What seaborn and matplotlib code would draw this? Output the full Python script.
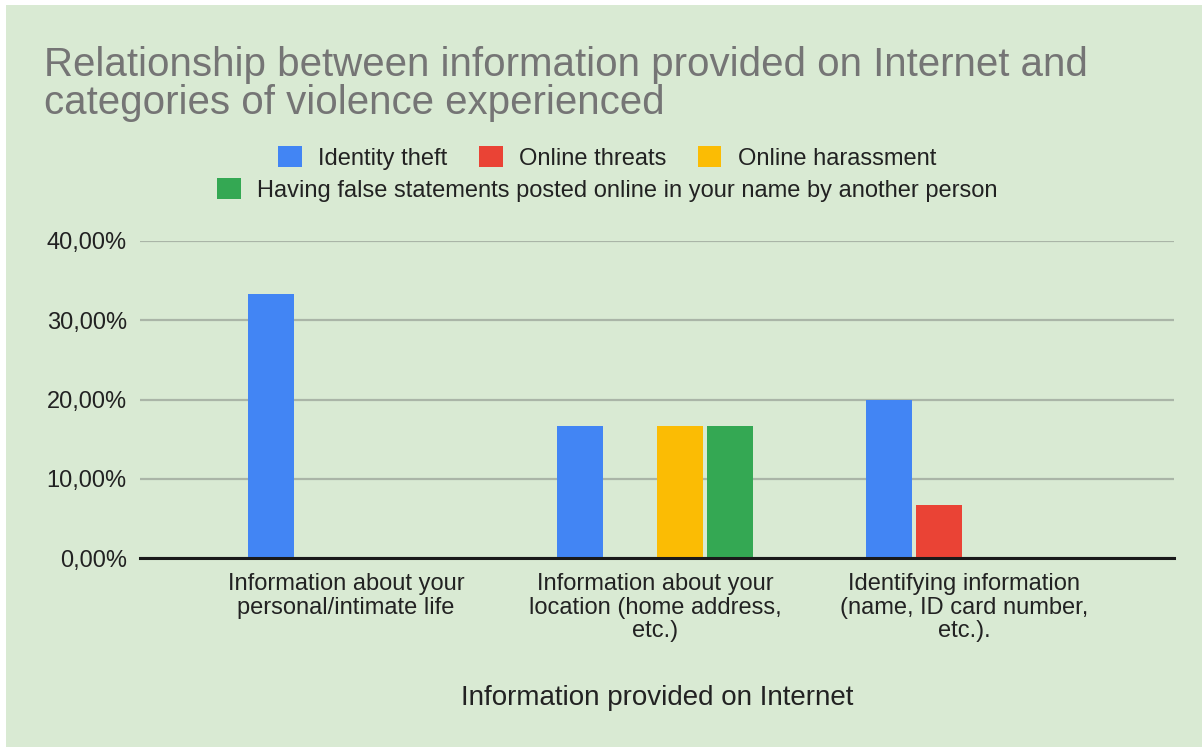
import matplotlib
matplotlib.use("Agg")
import matplotlib.pyplot as plt
from matplotlib.patches import Rectangle, Patch
from matplotlib.ticker import FuncFormatter, MultipleLocator
import pandas as pd
import seaborn as sns

# Data (percent of respondents)
categories = [
    "Information about your\npersonal/intimate life",
    "Information about your\nlocation (home address,\netc.)",
    "Identifying information\n(name, ID card number,\netc.).",
]
series = [
    "Identity theft",
    "Online threats",
    "Online harassment",
    "Having false statements posted online in your name by another person",
]
identity_theft = [33.33, 16.67, 20.00]
online_threats = [0.0, 0.0, 6.67]
online_harassment = [0.0, 16.67, 0.0]
false_statements = [0.0, 16.67, 0.0]

colors = ["#4285f4", "#ea4335", "#fbbc04", "#34a853"]
bg = "#d9ead3"

rows = []
for name, vals in zip(series, [identity_theft, online_threats, online_harassment, false_statements]):
    for cat, v in zip(categories, vals):
        rows.append({"category": cat, "series": name, "value": v})
df = pd.DataFrame(rows)

sns.set_theme(style="white")
plt.rcParams["font.family"] = ["Liberation Sans", "DejaVu Sans"]

W, H = 1202, 747
fig = plt.figure(figsize=(W / 100, H / 100), dpi=100, facecolor="white")
fig.patches.append(Rectangle((6 / W, 0), 1 - 6 / W, 1 - 5 / H, transform=fig.transFigure,
                             facecolor=bg, edgecolor="none", zorder=-10))

ax_left, ax_right, ax_top, ax_bottom = 140, 1174, 241, 558
ax = fig.add_axes([ax_left / W, 1 - ax_bottom / H, (ax_right - ax_left) / W, (ax_bottom - ax_top) / H])
ax.set_facecolor(bg)

sns.barplot(data=df, x="category", y="value", hue="series", hue_order=series,
            order=categories, palette=colors, width=0.647, gap=0.08,
            saturation=1, legend=False, ax=ax, zorder=3, linewidth=0, edgecolor="none")

ax.set_ylim(0, 40)
ax.set_xlim(-0.667, 2.680)
ax.yaxis.set_major_locator(MultipleLocator(10))
ax.yaxis.set_major_formatter(FuncFormatter(lambda v, p: f"{v:.2f}%".replace(".", ",")))
ax.grid(axis="y", color="#aab5a7", linewidth=1.6, zorder=0)
ax.grid(axis="x", visible=False)
for s in ["top", "right", "left"]:
    ax.spines[s].set_visible(False)
ax.spines["bottom"].set_color("#1a1a1a")
ax.spines["bottom"].set_linewidth(2.2)
ax.spines["bottom"].set_zorder(4)
ax.tick_params(axis="y", length=0, pad=9.5, labelsize=17, labelcolor="#222222")
ax.tick_params(axis="x", length=0, pad=11, labelsize=17, labelcolor="#222222")
for lbl in ax.get_xticklabels():
    lbl.set_linespacing(1.08)
ax.set_ylabel("")
ax.set_xlabel("Information provided on Internet", fontsize=20, color="#222222", labelpad=31)

fig.text(44 / W, 1 - 46 / H,
         "Relationship between information provided on Internet and\ncategories of violence experienced",
         fontsize=29, color="#757575", ha="left", va="top", linespacing=0.99)

handles = [Patch(facecolor=c, edgecolor="none") for c in colors]
leg_kw = dict(frameon=False, fontsize=17, handlelength=1.0, handleheight=1.0,
              handletextpad=0.68, labelcolor="#222222")
leg1 = fig.legend(handles[:3], series[:3], loc="center", bbox_to_anchor=(607 / W, 1 - 158 / H),
                  ncol=3, columnspacing=1.35, **leg_kw)
leg2 = fig.legend(handles[3:], series[3:], loc="center", bbox_to_anchor=(607 / W, 1 - 190 / H),
                  ncol=1, **leg_kw)

fig.savefig("out.png", dpi=100, facecolor="white")
